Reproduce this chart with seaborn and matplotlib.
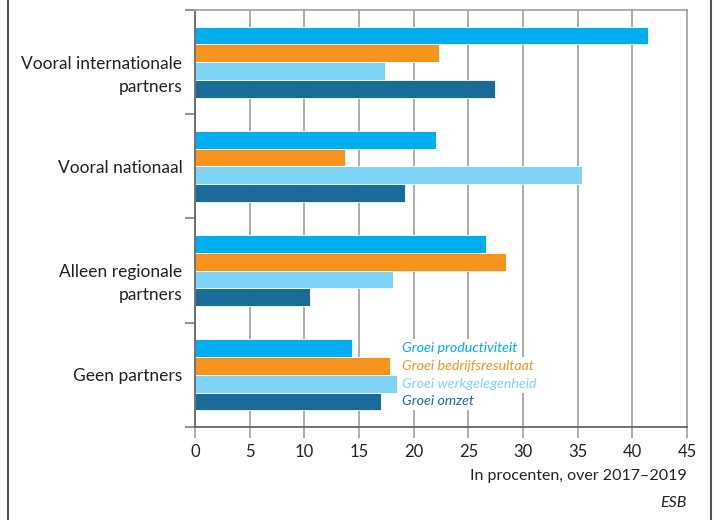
import matplotlib
matplotlib.use("Agg")
import matplotlib.pyplot as plt
from matplotlib.lines import Line2D
from matplotlib.transforms import offset_copy
import seaborn as sns
import pandas as pd

categories = ["Vooral internationale\npartners", "Vooral nationaal",
              "Alleen regionale\npartners", "Geen partners"]
series = ["Groei productiviteit", "Groei bedrijfsresultaat",
          "Groei werkgelegenheid", "Groei omzet"]
productiviteit = [41.4, 22.0, 26.6, 14.4]
bedrijfsresultaat = [22.3, 13.7, 28.4, 17.8]
werkgelegenheid = [17.4, 35.4, 18.1, 18.5]
omzet = [27.4, 19.2, 10.5, 17.0]
x_ticks = [0, 5, 10, 15, 20, 25, 30, 35, 40, 45]
colors = ["#00AEEF", "#F7941D", "#7FD3F7", "#1B6B9A"]

rows = []
for name, vals in zip(series, [productiviteit, bedrijfsresultaat, werkgelegenheid, omzet]):
    for cat, v in zip(categories, vals):
        rows.append({"categorie": cat, "reeks": name, "waarde": v})
df = pd.DataFrame(rows)

sns.set_theme(style="white")
plt.rcParams["font.family"] = ["Lato", "DejaVu Sans"]

fig = plt.figure(figsize=(7.14, 5.2), dpi=100)
ax = fig.add_axes([195 / 714, 1 - 427 / 520, 492 / 714, 417 / 520])

ax.set_axisbelow(True)
ax.grid(axis="x", color="#a6a6a6", lw=1.3)
ax.grid(axis="y", visible=False)

sns.barplot(data=df, y="categorie", x="waarde", hue="reeks", order=categories,
            hue_order=series, palette=colors, saturation=1, orient="h", width=0.68,
            edgecolor="white", linewidth=0.6, legend=False, ax=ax)

ax.set_xlim(0, 45)
ax.set_ylim(3.5, -0.5)
ax.set_xticks(x_ticks)
ax.set_xticklabels([str(t) for t in x_ticks], fontsize=12, color="#222222")
ax.tick_params(axis="x", length=8, width=1.3, color="#a6a6a6", pad=4, bottom=True)

# Group boundaries carry the y ticks; category names sit beside each group,
# first line level with the group centre, following lines below it
ax.set_yticks([-0.5, 0.5, 1.5, 2.5, 3.5])
ax.set_yticklabels([])
ax.tick_params(axis="y", which="major", length=7, width=1.3, color="#888888", left=True)
for i, cat in enumerate(categories):
    for k, line in enumerate(cat.split("\n")):
        tr = offset_copy(ax.get_yaxis_transform(), fig=fig, x=-12.5, y=-23 * k,
                         units="dots")
        ax.text(0, i, line, transform=tr, fontsize=12.5, color="#222222",
                ha="right", va="center_baseline")
ax.set_xlabel("")
ax.set_ylabel("")

for side in ["top", "right", "left", "bottom"]:
    ax.spines[side].set_visible(True)
ax.spines["right"].set_color("#a6a6a6")
ax.spines["right"].set_linewidth(1.3)
ax.spines["top"].set_color("#a6a6a6")
ax.spines["top"].set_linewidth(1.3)
ax.spines["left"].set_color("#666666")
ax.spines["left"].set_linewidth(1.3)
ax.spines["bottom"].set_color("#666666")
ax.spines["bottom"].set_linewidth(1.3)

# Series labels placed next to the bars of the last group, on a white ground
bar_h = 0.68 / 4
for i, (name, c) in enumerate(zip(series, colors)):
    yc = 3 - 0.34 + bar_h * (i + 0.5)
    ax.text(18.9, yc, name, color=c, fontsize=10.3, style="italic",
            ha="left", va="center",
            bbox=dict(facecolor="white", edgecolor="none", pad=2.2))

fig.text(687 / 714, 1 - 476 / 520, "In procenten, over 2017\u20132019",
         ha="right", va="center", fontsize=11.5, color="#222222")
fig.text(687 / 714, 1 - 503 / 520, "ESB", ha="right", va="center",
         fontsize=11.5, style="italic", color="#222222")

# Side rules of the frame
for xp in (8, 711):
    fig.add_artist(Line2D([xp / 714, xp / 714], [0, 1], color="#555555", lw=1.5,
                          transform=fig.transFigure))

fig.savefig("out.png", dpi=100)
